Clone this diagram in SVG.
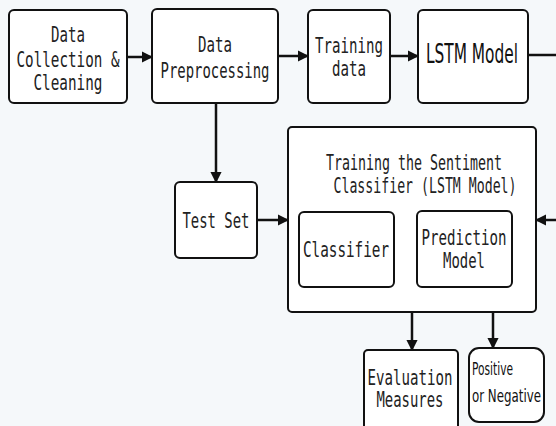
<svg xmlns="http://www.w3.org/2000/svg" width="556" height="426" viewBox="0 0 556 426">
<style>
.box{fill:#ffffff;stroke:#111;stroke-width:2}
.t{font-family:"DejaVu Sans Mono","Liberation Mono",monospace;font-size:21px;fill:#222;text-anchor:middle}
.s{font-family:"DejaVu Sans Condensed","DejaVu Sans",sans-serif;fill:#111}
.c{stroke:#111;stroke-width:2.5;fill:none}
</style>
<defs>
<marker id="ah" viewBox="0 0 10 10" refX="9" refY="5" markerWidth="4.5" markerHeight="4.5" orient="auto" markerUnits="strokeWidth"><path d="M0,0 L10,5 L0,10 z" fill="#111"/></marker>
<marker id="ah2" viewBox="0 0 10 10" refX="9" refY="5" markerWidth="4.5" markerHeight="4.5" orient="auto" markerUnits="strokeWidth"><path d="M0,0 L10,5 L0,10 z" fill="#111"/></marker>
</defs>
<rect width="556" height="426" fill="#f5f8fa"/>
<g id="connectors">
<line class="c" x1="127" y1="57" x2="152" y2="57" marker-end="url(#ah)"/>
<line class="c" x1="278" y1="56" x2="308" y2="56" marker-end="url(#ah)"/>
<line class="c" x1="390" y1="56" x2="418" y2="56" marker-end="url(#ah)"/>
<line class="c" x1="528" y1="55" x2="556" y2="55"/>
<line class="c" x1="216" y1="103" x2="216" y2="182" stroke-width="2" marker-end="url(#ah)"/>
<line class="c" x1="257" y1="220" x2="288" y2="220" marker-end="url(#ah)"/>
<line class="c" x1="556" y1="220" x2="536" y2="220" marker-end="url(#ah)"/>
<line class="c" x1="412" y1="312" x2="412" y2="350" stroke-width="2" marker-end="url(#ah)"/>
<line class="c" x1="493" y1="312" x2="493" y2="348" stroke-width="3" marker-end="url(#ah2)"/>
</g>
<g id="data-collection">
<rect class="box" x="9" y="10" width="118" height="93" rx="5"/>
<text class="t" x="68" y="42" textLength="34" lengthAdjust="spacingAndGlyphs">Data</text>
<text class="t" x="68" y="67" textLength="103" lengthAdjust="spacingAndGlyphs">Collection &amp;</text>
<text class="t" x="68" y="90" textLength="69" lengthAdjust="spacingAndGlyphs">Cleaning</text>
</g>
<g id="data-preprocessing">
<rect class="box" x="152" y="9" width="126" height="94" rx="5"/>
<text class="t" x="215" y="52" textLength="34" lengthAdjust="spacingAndGlyphs">Data</text>
<text class="t" x="215" y="78" textLength="109" lengthAdjust="spacingAndGlyphs">Preprocessing</text>
</g>
<g id="training-data">
<rect class="box" x="308" y="10" width="82" height="93" rx="5"/>
<text class="t" x="349" y="53" textLength="68" lengthAdjust="spacingAndGlyphs">Training</text>
<text class="t" x="349" y="76" textLength="34" lengthAdjust="spacingAndGlyphs">data</text>
</g>
<g id="lstm-model">
<rect class="box" x="418" y="10" width="110" height="93" rx="5"/>
<text class="s" x="472" y="63" font-size="26" text-anchor="middle" textLength="92" lengthAdjust="spacingAndGlyphs">LSTM Model</text>
</g>
<g id="test-set">
<rect class="box" x="175" y="182" width="82" height="76" rx="5"/>
<text class="t" x="216" y="228" textLength="67" lengthAdjust="spacingAndGlyphs">Test Set</text>
</g>
<g id="sentiment-classifier">
<rect class="box" x="288" y="127" width="248" height="185" rx="4" stroke-width="2.5"/>
<text class="t" x="414" y="170" textLength="176" lengthAdjust="spacingAndGlyphs">Training the Sentiment</text>
<text class="t" x="425" y="193" textLength="183" lengthAdjust="spacingAndGlyphs">Classifier (LSTM Model)</text>
</g>
<g id="classifier">
<rect class="box" x="299" y="212" width="95" height="75" rx="5" stroke-width="1.8"/>
<text class="t" x="346" y="257" textLength="86" lengthAdjust="spacingAndGlyphs">Classifier</text>
</g>
<g id="prediction-model">
<rect class="box" x="417" y="211" width="95" height="76" rx="5" stroke-width="1.8"/>
<text class="t" x="464" y="245" textLength="85" lengthAdjust="spacingAndGlyphs">Prediction</text>
<text class="t" x="464" y="268" textLength="42" lengthAdjust="spacingAndGlyphs">Model</text>
</g>
<g id="evaluation-measures">
<rect class="box" x="364" y="350" width="94" height="85" rx="4" stroke-width="1.8"/>
<text class="t" x="410" y="385" textLength="85" lengthAdjust="spacingAndGlyphs">Evaluation</text>
<text class="t" x="410" y="407" textLength="67" lengthAdjust="spacingAndGlyphs">Measures</text>
</g>
<g id="positive-negative">
<rect class="box" x="469" y="348" width="75" height="74" rx="10" stroke-width="3"/>
<text class="s" x="472" y="375" font-size="18" textLength="41" lengthAdjust="spacingAndGlyphs">Positive</text>
<text class="s" x="472" y="402" font-size="18" textLength="69" lengthAdjust="spacingAndGlyphs">or Negative</text>
</g>
</svg>
